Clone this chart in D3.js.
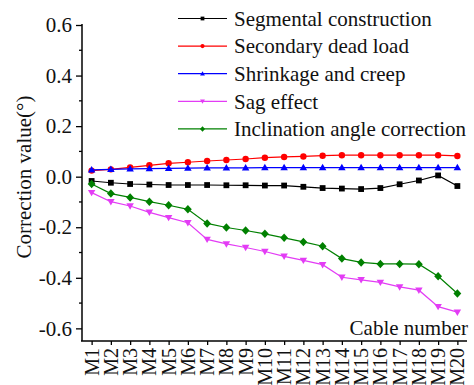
<!DOCTYPE html>
<html>
<head>
<meta charset="utf-8">
<script src="https://cdn.jsdelivr.net/npm/d3@7"></script>
<style>
  body { margin: 0; background: #fff; }
  svg { display: block; }
  svg text { font-family: "Liberation Serif", "Times New Roman", serif; }
</style>
</head>
<body>
<svg id="chart" width="474" height="385"></svg>
<script>
"use strict"

// cable numbers
var cables = ["M1","M2","M3","M4","M5","M6","M7","M8","M9","M10",
              "M11","M12","M13","M14","M15","M16","M17","M18","M19","M20"];

var segmental = [-0.017,-0.024,-0.029,-0.031,-0.033,-0.033,-0.033,-0.034,-0.034,-0.035,
                 -0.035,-0.040,-0.045,-0.047,-0.049,-0.045,-0.030,-0.015,0.005,-0.037];
var deadLoad  = [0.024,0.029,0.037,0.045,0.053,0.057,0.062,0.066,0.070,0.075,
                 0.078,0.080,0.083,0.085,0.085,0.085,0.085,0.085,0.085,0.082];
var shrinkage = [0.027,0.029,0.031,0.032,0.033,0.034,0.035,0.035,0.035,0.036,
                 0.036,0.036,0.036,0.036,0.036,0.036,0.036,0.036,0.036,0.036];
var sag       = [-0.063,-0.099,-0.116,-0.141,-0.162,-0.182,-0.248,-0.266,-0.280,-0.296,
                 -0.315,-0.331,-0.348,-0.398,-0.408,-0.418,-0.436,-0.449,-0.514,-0.536];
var inclination = [-0.029,-0.067,-0.082,-0.099,-0.113,-0.129,-0.185,-0.201,-0.213,-0.226,
                   -0.242,-0.258,-0.275,-0.324,-0.339,-0.345,-0.345,-0.346,-0.394,-0.462];

var yTicks = [-0.6,-0.4,-0.2,0.0,0.2,0.4,0.6];
var yTickLabels = ["-0.6","-0.4","-0.2","0.0","0.2","0.4","0.6"];
var yMinorTicks = [-0.5,-0.3,-0.1,0.1,0.3,0.5];

var series = [
    {name: "Segmental construction", values: segmental, color: "#000000", marker: "square"},
    {name: "Secondary dead load", values: deadLoad, color: "#ff0000", marker: "circle"},
    {name: "Shrinkage and creep", values: shrinkage, color: "#0000ff", marker: "up"},
    {name: "Sag effect", values: sag, color: "#e33cf5", marker: "down"},
    {name: "Inclination angle correction", values: inclination, color: "#008000", marker: "diamond"}
];

var svg = d3.select("#chart");

var mLeft = 82, mRight = 467, mTop = 25, mBottom = 341;

var x = d3.scalePoint().domain(cables).range([mLeft, mRight]).padding(0.5);
var y = d3.scaleLinear().domain([-0.65, 0.6]).range([mBottom, mTop]);

// marker path, s = half size
function markerPath(type, s) {
    if (type === "square") {
        return "M" + (-s) + "," + (-s) + "H" + s + "V" + s + "H" + (-s) + "Z";
    } else if (type === "circle") {
        return "M" + s + ",0A" + s + "," + s + " 0 1,1 " + (-s) + ",0A" + s + "," + s + " 0 1,1 " + s + ",0Z";
    } else if (type === "up") {
        return "M0," + (-s * 1.1) + "L" + (s * 1.1) + "," + (s * 0.8) + "L" + (-s * 1.1) + "," + (s * 0.8) + "Z";
    } else if (type === "down") {
        return "M0," + (s * 1.1) + "L" + (s * 1.1) + "," + (-s * 0.8) + "L" + (-s * 1.1) + "," + (-s * 0.8) + "Z";
    } else {
        return "M0," + (-s * 1.25) + "L" + (s * 1.15) + ",0L0," + (s * 1.25) + "L" + (-s * 1.15) + ",0Z";
    }
}

var markerSize = {square: 2.9, circle: 3.2, up: 3.4, down: 3.4, diamond: 3.4};

// axes
var yAxis = svg.append("g")
    .attr("transform", "translate(" + mLeft + ",0)")
    .call(d3.axisLeft(y).tickValues(yTicks).tickSize(6).tickSizeOuter(0)
        .tickFormat(function (d, i) { return yTickLabels[i]; }));
yAxis.attr("font-family", null);
yAxis.select(".domain").attr("stroke-width", 1.5).attr("d", "M0," + (mTop - 1) + "V" + mBottom);
yAxis.selectAll(".tick line").attr("stroke-width", 1.3);
yAxis.selectAll(".tick text").attr("font-size", "21px")
    .attr("x", -10).attr("fill", "#111");

svg.append("g").selectAll("line")
    .data(yMinorTicks).enter()
    .append("line")
    .attr("x1", mLeft - 3).attr("x2", mLeft)
    .attr("y1", function (d) { return y(d); })
    .attr("y2", function (d) { return y(d); })
    .attr("stroke", "#000").attr("stroke-width", 1.3);

var xAxis = svg.append("g")
    .attr("transform", "translate(0," + mBottom + ")")
    .call(d3.axisBottom(x).tickSize(4).tickSizeOuter(0));
xAxis.attr("font-family", null);
xAxis.select(".domain").attr("stroke-width", 1.5).attr("d", "M" + (mLeft - 1) + ",0H" + mRight);
xAxis.selectAll(".tick line").attr("stroke-width", 1.3);
xAxis.selectAll(".tick text")
    .attr("font-size", "20px").attr("fill", "#111")
    .attr("text-anchor", "end")
    .attr("transform", "rotate(-90)")
    .attr("x", -7).attr("y", 0).attr("dy", "0.33em");

// axis titles
svg.append("text")
    .attr("transform", "translate(31," + 177 + ") rotate(-90)")
    .attr("text-anchor", "middle")
    .attr("font-size", "21px")
    .attr("fill", "#111")
    .text("Correction value(°)");

svg.append("text")
    .attr("x", mRight + 1).attr("y", 335)
    .attr("text-anchor", "end")
    .attr("font-size", "21px")
    .attr("fill", "#111")
    .text("Cable number");

// lines and markers
var line = d3.line()
    .x(function (d, i) { return x(cables[i]); })
    .y(function (d) { return y(d); });

series.forEach(function (s) {
    var g = svg.append("g");
    g.append("path")
        .attr("d", line(s.values))
        .attr("fill", "none")
        .attr("stroke", s.color)
        .attr("stroke-width", 1.2);
    g.selectAll("path.pt")
        .data(s.values).enter()
        .append("path")
        .attr("class", "pt")
        .attr("transform", function (d, i) { return "translate(" + x(cables[i]) + "," + y(d) + ")"; })
        .attr("d", markerPath(s.marker, markerSize[s.marker]))
        .attr("fill", s.color);
});

// legend
var legend = svg.append("g")
    .attr("transform", "translate(178,18.5)")
    .style("font-size", "21px");

legend.selectAll("line")
    .data(series).enter()
    .append("line")
    .attr("x1", 0).attr("x2", 49)
    .attr("y1", function (d, i) { return i * 27.6; })
    .attr("y2", function (d, i) { return i * 27.6; })
    .attr("stroke", function (d) { return d.color; })
    .attr("stroke-width", 1.2);

legend.selectAll("path")
    .data(series).enter()
    .append("path")
    .attr("transform", function (d, i) { return "translate(24.5," + (i * 27.6) + ")"; })
    .attr("d", function (d) { return markerPath(d.marker, markerSize[d.marker] * 0.65); })
    .attr("fill", function (d) { return d.color; });

legend.selectAll("text")
    .data(series).enter()
    .append("text")
    .attr("x", 56)
    .attr("y", function (d, i) { return i * 27.6; })
    .attr("dy", "0.35em")
    .attr("fill", "#111")
    .text(function (d) { return d.name; });
</script>
</body>
</html>
